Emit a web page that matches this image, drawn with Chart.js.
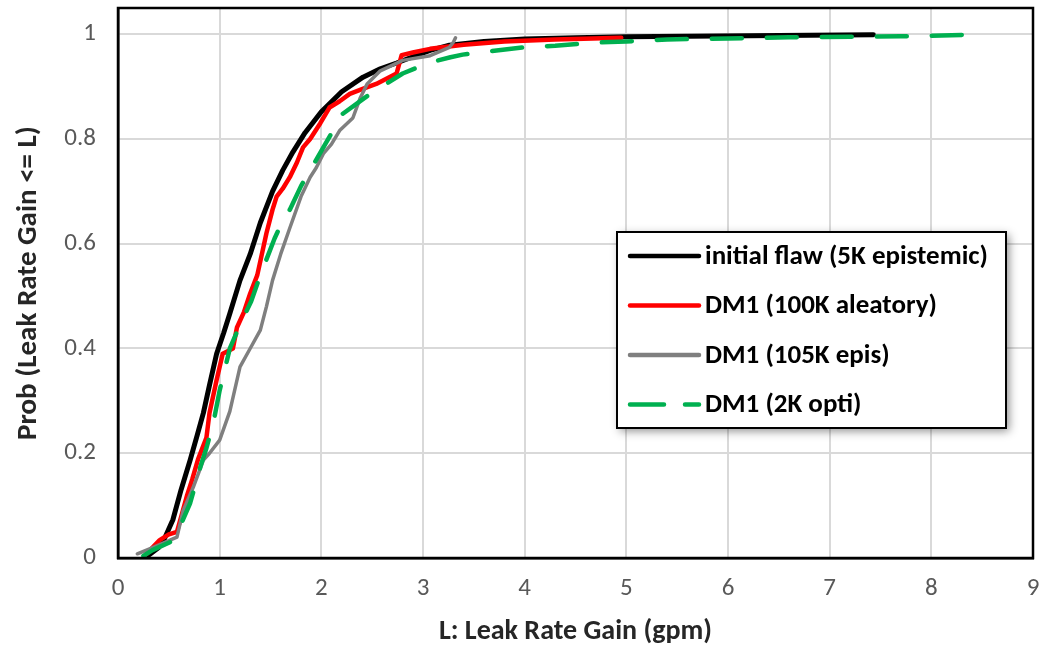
<!DOCTYPE html>
<html>
<head>
<meta charset="utf-8">
<script src="https://cdn.jsdelivr.net/npm/chart.js@4"></script>
<style>
  html, body { margin: 0; padding: 0; background: #ffffff; }
  #wrap { width: 1042px; height: 650px; }
</style>
</head>
<body>
<div id="wrap"><canvas id="cdf" width="1042" height="650"></canvas></div>
<script>
// Cumulative distributions of leak rate gain (gpm)
const flawX = [0.30, 0.40, 0.46, 0.54, 0.62, 0.71, 0.78, 0.84, 0.90, 0.97, 1.04, 1.10, 1.20, 1.30, 1.40, 1.52, 1.62, 1.72, 1.84, 2.00, 2.20, 2.41, 2.58, 2.74, 2.90, 3.07, 3.26, 3.60, 4.00, 4.50, 5.00, 5.60, 6.20, 6.80, 7.43];
const flawY = [0.005, 0.02, 0.038, 0.073, 0.13, 0.187, 0.235, 0.277, 0.33, 0.39, 0.43, 0.467, 0.53, 0.58, 0.64, 0.70, 0.74, 0.775, 0.812, 0.852, 0.89, 0.918, 0.934, 0.945, 0.957, 0.969, 0.979, 0.986, 0.991, 0.993, 0.995, 0.996, 0.997, 0.998, 0.999];

const aleaX = [0.28, 0.41, 0.50, 0.58, 0.63, 0.68, 0.73, 0.79, 0.87, 0.90, 0.97, 1.03, 1.13, 1.17, 1.24, 1.30, 1.37, 1.46, 1.52, 1.56, 1.62, 1.69, 1.76, 1.82, 1.89, 1.99, 2.08, 2.18, 2.28, 2.40, 2.54, 2.74, 2.79, 2.90, 3.07, 3.40, 3.80, 4.30, 4.95];
const aleaY = [0.008, 0.034, 0.045, 0.05, 0.085, 0.12, 0.15, 0.19, 0.23, 0.277, 0.34, 0.39, 0.40, 0.44, 0.47, 0.505, 0.54, 0.62, 0.665, 0.69, 0.705, 0.727, 0.755, 0.784, 0.80, 0.83, 0.86, 0.872, 0.886, 0.895, 0.905, 0.925, 0.96, 0.965, 0.972, 0.98, 0.986, 0.99, 0.993];

const episX = [0.19, 0.34, 0.50, 0.58, 0.64, 0.74, 0.84, 0.90, 1.00, 1.10, 1.20, 1.30, 1.40, 1.46, 1.52, 1.60, 1.69, 1.80, 1.89, 1.95, 2.02, 2.10, 2.18, 2.31, 2.38, 2.45, 2.58, 2.80, 3.07, 3.26, 3.30, 3.32];
const episY = [0.008, 0.02, 0.033, 0.04, 0.09, 0.135, 0.187, 0.20, 0.225, 0.28, 0.365, 0.40, 0.435, 0.48, 0.53, 0.58, 0.63, 0.69, 0.727, 0.745, 0.772, 0.79, 0.816, 0.84, 0.877, 0.905, 0.93, 0.95, 0.959, 0.975, 0.985, 0.993];

const optiX = [0.25, 0.34, 0.51, 0.61, 0.71, 0.81, 0.87, 0.94, 1.00, 1.10, 1.20, 1.31, 1.40, 1.49, 1.54, 1.60, 1.69, 1.80, 1.89, 2.02, 2.21, 2.48, 2.80, 3.07, 3.27, 3.39, 3.54, 4.00, 4.30, 4.70, 5.00, 5.40, 6.00, 6.60, 7.20, 7.70, 8.20, 8.36];
const optiY = [0.004, 0.015, 0.03, 0.06, 0.105, 0.174, 0.21, 0.26, 0.32, 0.40, 0.445, 0.49, 0.54, 0.585, 0.61, 0.635, 0.665, 0.71, 0.74, 0.784, 0.848, 0.886, 0.925, 0.946, 0.956, 0.961, 0.965, 0.975, 0.978, 0.984, 0.986, 0.99, 0.992, 0.994, 0.995, 0.996, 0.998, 0.999];

const seriesLabels = ['initial flaw (5K epistemic)', 'DM1 (100K aleatory)', 'DM1 (105K epis)', 'DM1 (2K opti)'];
const xTickValues = [0, 1, 2, 3, 4, 5, 6, 7, 8, 9];
const yTickValues = [0, 0.2, 0.4, 0.6, 0.8, 1];
const xTitle = 'L: Leak Rate Gain (gpm)';
const yTitle = 'Prob (Leak Rate Gain <= L)';

const FONT = "Carlito, Lato, 'Liberation Sans', sans-serif";
const pts = (xs, ys) => xs.map((x, i) => ({ x: x, y: ys[i] }));

// Frame around the plotting area
const framePlugin = {
  id: 'frame',
  afterDatasetsDraw(chart) {
    const { ctx, chartArea: a } = chart;
    ctx.save();
    ctx.strokeStyle = '#000000';
    ctx.lineWidth = 2.5;
    ctx.strokeRect(a.left, a.top, a.right - a.left, a.bottom - a.top);
    ctx.restore();
  }
};

// Boxed legend inside the plot, with a soft drop shadow
const boxLegend = {
  id: 'boxLegend',
  afterDraw(chart) {
    const { ctx } = chart;
    const box = { x: 617, y: 232, w: 389, h: 196 };
    ctx.save();
    ctx.shadowColor = 'rgba(0,0,0,0.45)';
    ctx.shadowBlur = 9;
    ctx.shadowOffsetX = 3;
    ctx.shadowOffsetY = 3;
    ctx.fillStyle = '#ffffff';
    ctx.fillRect(box.x, box.y, box.w, box.h);
    ctx.restore();

    ctx.save();
    ctx.strokeStyle = '#000000';
    ctx.lineWidth = 2;
    ctx.strokeRect(box.x, box.y, box.w, box.h);
    ctx.font = 'bold 27px ' + FONT;
    ctx.textBaseline = 'middle';
    ctx.fillStyle = '#000000';
    const sets = chart.data.datasets;
    for (let i = 0; i < sets.length; i++) {
      const ds = sets[i];
      const yy = box.y + 24 + i * 49.5;
      ctx.beginPath();
      ctx.strokeStyle = ds.borderColor;
      ctx.lineWidth = 4.5;
      ctx.lineCap = 'round';
      ctx.setLineDash(ds.borderDash ? [34, 21] : []);
      ctx.moveTo(630, yy);
      ctx.lineTo(699, yy);
      ctx.stroke();
      ctx.setLineDash([]);
      ctx.fillText(ds.label, 705, yy + 1);
    }
    ctx.restore();
  }
};

new Chart(document.getElementById('cdf'), {
  type: 'line',
  data: {
    datasets: [
      { label: seriesLabels[0], data: pts(flawX, flawY), borderColor: '#000000', borderWidth: 5, order: 4 },
      { label: seriesLabels[1], data: pts(aleaX, aleaY), borderColor: '#ff0000', borderWidth: 4.5, order: 3 },
      { label: seriesLabels[2], data: pts(episX, episY), borderColor: '#7f7f7f', borderWidth: 3.5, order: 2 },
      { label: seriesLabels[3], data: pts(optiX, optiY), borderColor: '#00b050', borderWidth: 4.5, borderDash: [30, 25], borderCapStyle: 'round', order: 1 }
    ]
  },
  options: {
    responsive: false,
    animation: false,
    elements: {
      point: { radius: 0, hoverRadius: 0 },
      line: { tension: 0, fill: false, borderJoinStyle: 'round', borderCapStyle: 'round' }
    },
    layout: { autoPadding: false, padding: { top: 8, right: 9, left: 0, bottom: 0 } },
    plugins: { legend: { display: false }, tooltip: { enabled: false } },
    scales: {
      x: {
        type: 'linear',
        min: xTickValues[0],
        max: xTickValues[xTickValues.length - 1],
        afterBuildTicks: (s) => { s.ticks = xTickValues.map(v => ({ value: v })); },
        afterFit: (s) => { s.height = 92; s.paddingLeft = 0; s.paddingRight = 0; },
        grid: { color: '#d9d9d9', lineWidth: 2, drawTicks: false },
        border: { color: '#000000', width: 2.5 },
        ticks: { color: '#595959', font: { family: FONT, size: 25 }, padding: 16, callback: (v) => String(v) },
        title: { display: true, text: xTitle, color: '#262626', font: { family: FONT, size: 28, weight: 'bold' }, padding: { top: 0, bottom: 1 } }
      },
      y: {
        type: 'linear',
        min: 0,
        max: 1.05,
        afterBuildTicks: (s) => { s.ticks = yTickValues.map(v => ({ value: v })); },
        afterFit: (s) => { s.width = 118; s.paddingTop = 0; s.paddingBottom = 0; },
        grid: { color: '#d9d9d9', lineWidth: 2, drawTicks: false },
        border: { color: '#000000', width: 2.5 },
        ticks: { color: '#595959', font: { family: FONT, size: 25 }, padding: 22, callback: (v) => String(+Number(v).toFixed(2)) },
        title: { display: true, text: yTitle, color: '#262626', font: { family: FONT, size: 29, weight: 'bold' }, padding: { top: 11, bottom: 0 } }
      }
    }
  },
  plugins: [framePlugin, boxLegend]
});
</script>
</body>
</html>
